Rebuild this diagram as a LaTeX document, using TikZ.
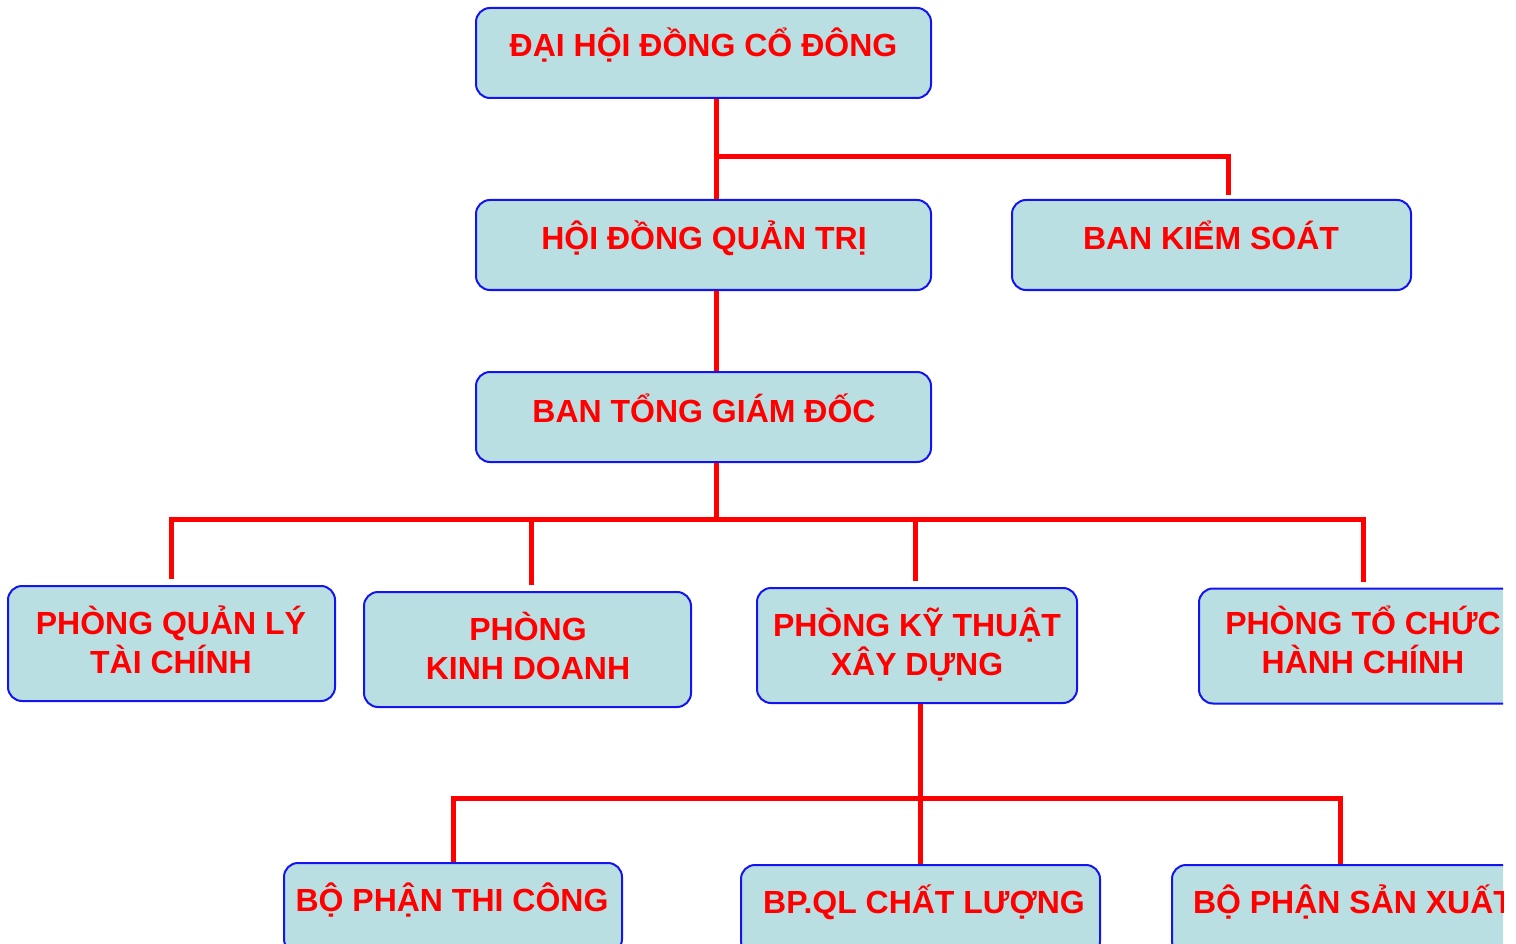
\documentclass[tikz,border=0pt]{standalone}
\usepackage{fontspec}
\setmainfont{Liberation Sans}
\usetikzlibrary{positioning}
\definecolor{boxfill}{RGB}{185,223,227}
\definecolor{boxline}{RGB}{20,20,240}
\begin{document}
\begin{tikzpicture}[x=1pt,y=-1pt,
    box/.style={draw=boxline,line width=2pt,fill=boxfill,rounded corners=14pt,minimum height=90pt,inner sep=0pt},
    tall/.style={box,minimum height=115pt},
    lbl/.style={text=red,font=\fontsize{32}{39}\selectfont\bfseries,align=center,anchor=base,inner sep=0pt},
    link/.style={draw=red,line width=5pt}]
    \useasboundingbox (0,0) rectangle (1516,944);
    \clip (0,0) rectangle (1503,944);

    % boxes
    \node[box,minimum width=455pt] (dhd)   at (703.5,53)  {};
    \node[box,minimum width=455pt] (hdqt)  at (703.5,245) {};
    \node[box,minimum width=399pt] (bks)   at (1211.5,245) {};
    \node[box,minimum width=455pt] (btgd)  at (703.5,417) {};
    \node[tall,minimum width=327pt] (pqltc) at (171.5,643.5) {};
    \node[tall,minimum width=327pt] (pkd)   at (527.5,649.5) {};
    \node[tall,minimum width=320pt] (pktxd) at (917,645.5) {};
    \node[tall,minimum width=328pt] (ptchc) at (1363,646) {};
    \node[box,minimum width=338pt] (bptc)   at (453,908) {};
    \node[box,minimum width=359pt] (bpqlcl) at (920.5,910) {};
    \node[box,minimum width=359pt] (bpsx)   at (1351.5,910) {};

    % texts (base = last line)
    \node[lbl] (dhd-t)   at (703.5,57)  {ĐẠI HỘI ĐỒNG CỔ ĐÔNG};
    \node[lbl] (hdqt-t)  at (704,250)   {HỘI ĐỒNG QUẢN TRỊ};
    \node[lbl] (bks-t)   at (1211,250)  {BAN KIỂM SOÁT};
    \node[lbl] (btgd-t)  at (704,422)   {BAN TỔNG GIÁM ĐỐC};
    \node[lbl] (pqltc-t) at (171,673)   {PHÒNG QUẢN LÝ\\TÀI CHÍNH};
    \node[lbl] (pkd-t)   at (528,679)   {PHÒNG\\KINH DOANH};
    \node[lbl] (pktxd-t) at (917,675)   {PHÒNG KỸ THUẬT\\XÂY DỰNG};
    \node[lbl] (ptchc-t) at (1363,673)  {PHÒNG TỔ CHỨC\\HÀNH CHÍNH};
    \node[lbl] (bptc-t)  at (452,911)   {BỘ PHẬN THI CÔNG};
    \node[lbl] (bpqlcl-t) at (924,913)  {BP.QL CHẤT LƯỢNG};
    \node[lbl] (bpsx-t)  at (1353,913)  {BỘ PHẬN SẢN XUẤT};

    % connectors
    \coordinate (j1) at (716,157);
    \coordinate (j2) at (716,519);
    \coordinate (j3) at (920,798);
    \draw[link] (dhd.south -| j1) -- (hdqt.north -| j1);
    \draw[link,shorten >=4pt] (j1) -| ([xshift=16.5pt]bks.north);
    \draw[link] (hdqt.south -| j1) -- (btgd.north -| j1);
    \draw[link] (btgd.south -| j2) -- (j2);
    \draw[link,shorten >=6pt] (j2) -| (pqltc.north);
    \draw[link,shorten >=6pt] (j2) -| (ptchc.north);
    \draw[link,shorten >=6pt] (j2 -| pkd.north) ++(3.5,0) -- ([xshift=3.5pt]pkd.north);
    \draw[link,shorten >=6pt] (j2 -| pktxd.north) ++(-2,0) -- ([xshift=-2pt]pktxd.north);
    \draw[link] (pktxd.south -| j3) -- (bpqlcl.north -| j3);
    \draw[link] (j3) -| (bptc.north);
    \draw[link] (j3) -| ([xshift=-11.5pt]bpsx.north);
\end{tikzpicture}
\end{document}
